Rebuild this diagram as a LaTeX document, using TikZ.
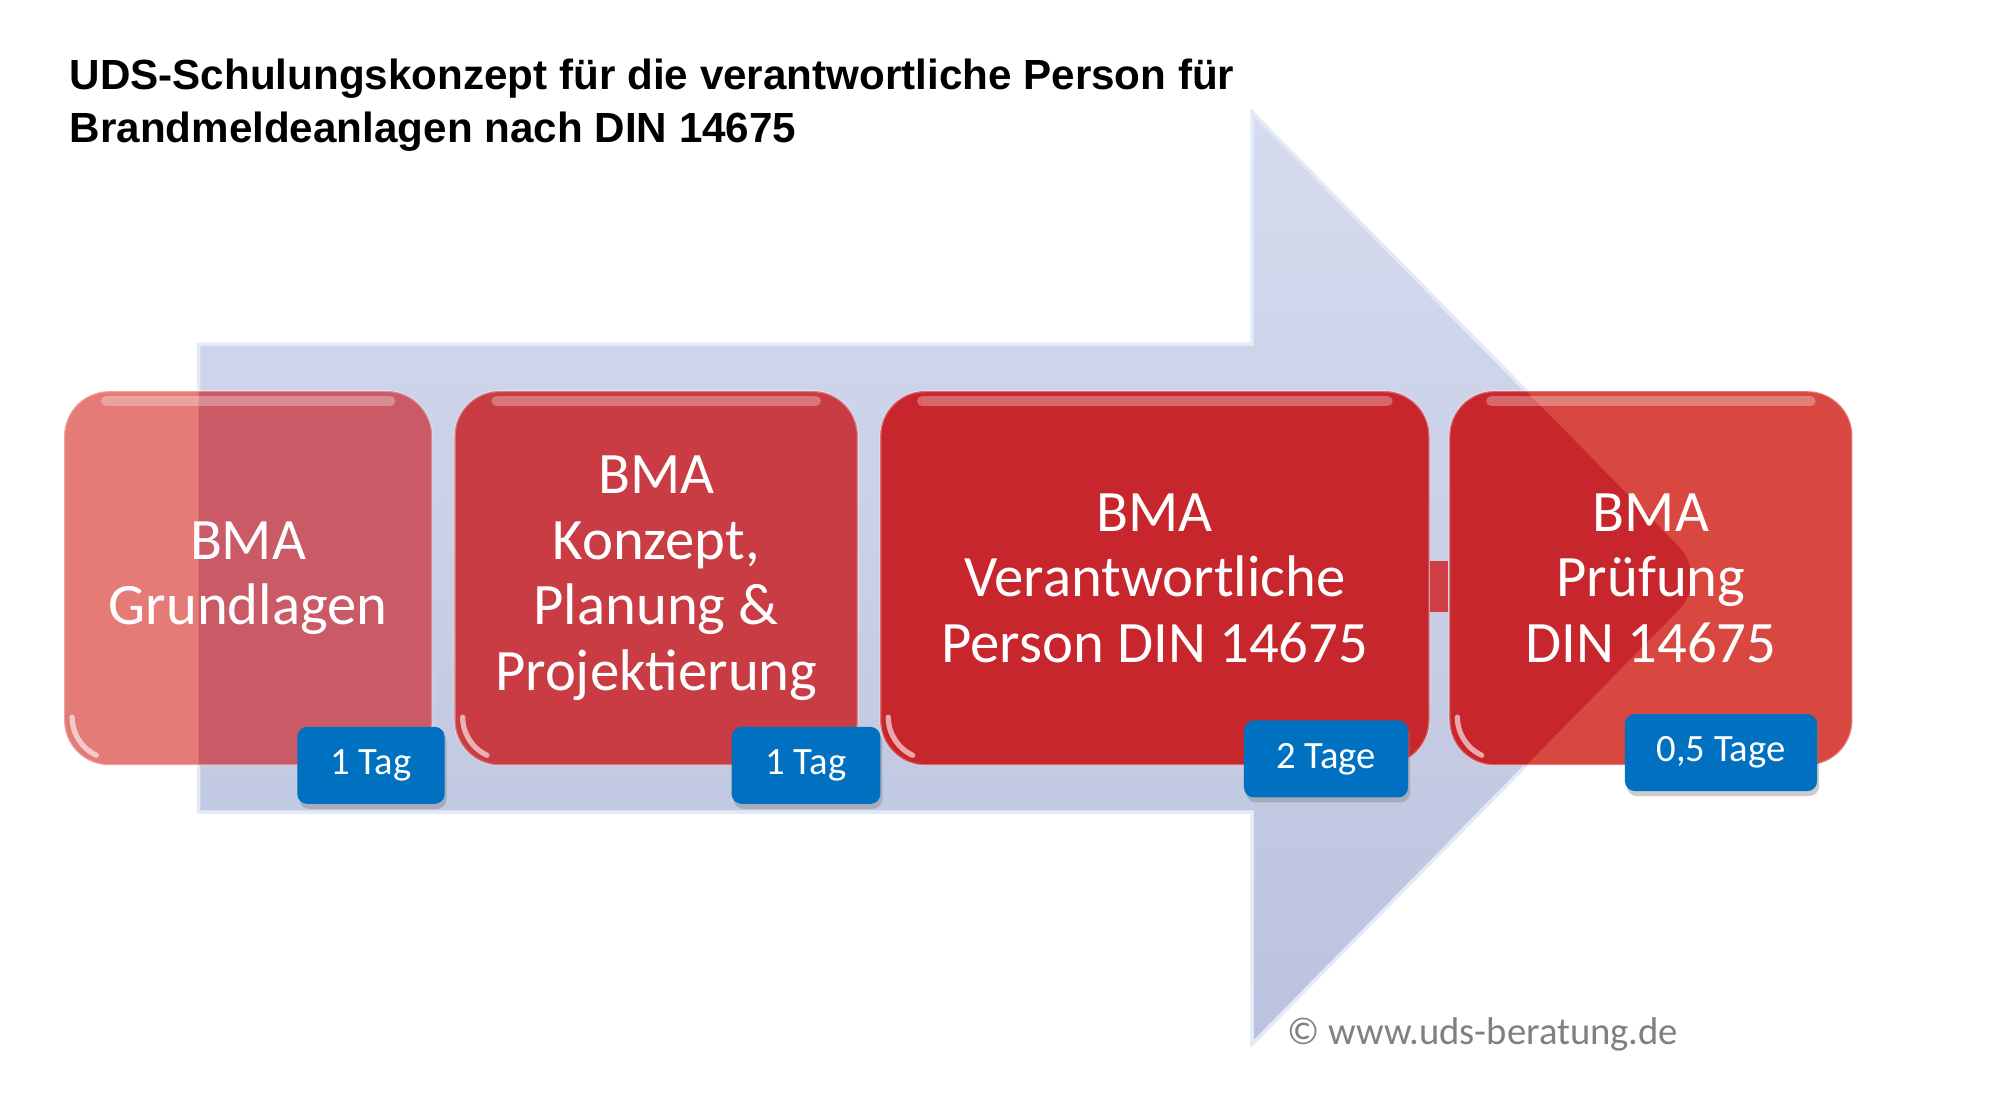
\documentclass[tikz,border=0pt]{standalone}
\usepackage{fontspec}
\setmainfont{Carlito}
\newfontfamily\titlefont{Liberation Sans}
\usepackage{xcolor}
\definecolor{arrowtop}{RGB}{213,220,239}
\definecolor{arrowbottom}{RGB}{187,194,221}
\definecolor{arrowedge}{RGB}{228,233,247}
\definecolor{redlight}{RGB}{228,123,119}
\definecolor{redlightover}{RGB}{202,90,102}
\definecolor{redmid}{RGB}{201,60,68}
\definecolor{reddark}{RGB}{200,38,45}
\definecolor{redright}{RGB}{216,72,64}
\definecolor{badgeblue}{RGB}{0,112,192}
\definecolor{copygray}{RGB}{128,128,128}
\usepackage{tikz}
\usetikzlibrary{calc}
\usetikzlibrary{positioning}
\usetikzlibrary{shadows}
\newcommand{\heightstage}{3.74cm}
\newcommand{\heightbadge}{0.77cm}
\newcommand{\gapstage}{0.205cm}
\tikzset{
    stage/.style 2 args={fill=#1, draw=white, draw opacity=0.3, line width=0.6pt,
        rounded corners=0.45cm, minimum height=\heightstage, inner sep=0pt,
        align=center, text=white, font=\fontsize{16.7}{18.6}\selectfont,
        path picture={
            \fill[#2] (tail south) -- (neck south) -- (barb south) -- (tip)
                -- (barb north) -- (neck north) -- (tail north) -- cycle;
            \draw[white, opacity=0.3, line width=3pt, line cap=round]
                ($(path picture bounding box.north west)+(0.42,-0.1)$)
                -- ($(path picture bounding box.north east)+(-0.42,-0.1)$);
            \draw[white, opacity=0.6, line width=1.5pt, line cap=round]
                ($(path picture bounding box.south west)+(0.08,0.48)$)
                arc[start angle=180, end angle=245, radius=0.42];
        }},
    badge/.style={fill=badgeblue, rounded corners=0.1cm, minimum height=\heightbadge,
        inner sep=0pt, text=white, font=\fontsize{11}{13}\selectfont,
        drop shadow={opacity=0.4, shadow xshift=0.02cm, shadow yshift=-0.05cm}},
    link/.style={line width=0.51cm, draw=reddark!88!white},
    heading/.style={anchor=base west, inner sep=0pt,
        font=\titlefont\bfseries\fontsize{12}{15}\selectfont},
}

\begin{document}
\begin{tikzpicture}
    \fill[white] (0,0) rectangle (20,11.01);
    \useasboundingbox (0,0) rectangle (20,11.01);

    % big arrow behind the stages
    \coordinate (tail south) at (1.987,2.888);
    \coordinate (tail north) at (1.987,7.568);
    \coordinate (neck south) at (12.52,2.888);
    \coordinate (neck north) at (12.52,7.568);
    \coordinate (barb south) at (12.52,0.568);
    \coordinate (barb north) at (12.52,9.888);
    \coordinate (tip) at (17.1,5.228);
    \shadedraw[top color=arrowtop, bottom color=arrowbottom, draw=arrowedge, line width=1pt]
        (tail south) -- (neck south) -- (barb south) -- (tip)
        -- (barb north) -- (neck north) -- (tail north) -- cycle;

    \node[heading] (title1) at (0.69,10.113) {UDS-Schulungskonzept für die verantwortliche Person für};
    \node[heading] (title2) at (0.69,9.587) {Brandmeldeanlagen nach DIN 14675};

    % stages
    \node[stage={redlight}{redlightover}, minimum width=3.68cm] (grundlagen) at (2.481,5.228)
        {BMA\\Grundlagen};
    \node[stage={redmid}{redmid}, minimum width=4.03cm, right=\gapstage of grundlagen] (konzept)
        {BMA\\Konzept,\\Planung \&\\Projektierung};
    \node[stage={reddark}{reddark}, minimum width=5.49cm, right=\gapstage of konzept] (person)
        {BMA\\Verantwortliche\\Person DIN 14675};
    \node[stage={redright}{reddark}, minimum width=4.03cm, right=0.18cm of person] (pruefung)
        {BMA\\Prüfung\\DIN 14675};

    \draw[link] ([yshift=-0.08cm]person.east) -- ([yshift=-0.08cm]pruefung.west);

    % durations
    \node[badge, minimum width=1.474cm] (tag1) at (3.71,3.356) {1 Tag};
    \node[badge, minimum width=1.487cm] (tag2) at (8.06,3.356) {1 Tag};
    \node[badge, minimum width=1.641cm] (tag3) at (13.26,3.420) {2 Tage};
    \node[badge, minimum width=1.923cm] (tag4) at (17.21,3.484) {0,5 Tage};

    \node[anchor=west, inner sep=0pt, text=copygray, font=\fontsize{11}{13}\selectfont] (copy)
        at (12.87,0.664) {© www.uds-beratung.de};
\end{tikzpicture}
\end{document}
